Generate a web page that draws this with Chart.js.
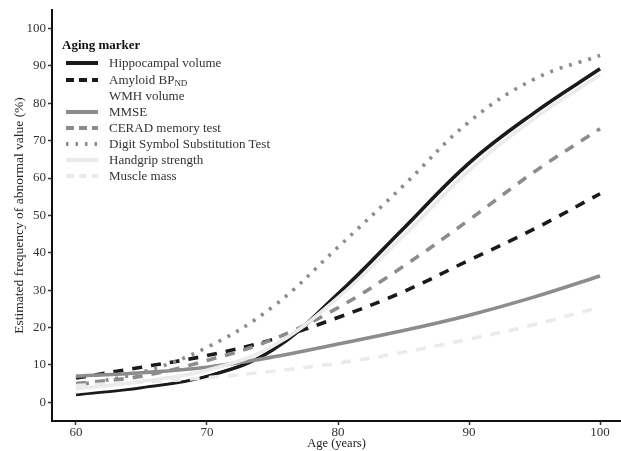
<!DOCTYPE html>
<html>
<head>
<meta charset="utf-8">
<script src="https://cdn.jsdelivr.net/npm/chart.js@4.4.1/dist/chart.umd.min.js"></script>
<style>
  body { margin: 0; background: #fff; }
  #wrap { position: relative; width: 621px; height: 451px; font-family: 'Liberation Serif', serif; }
  #legend { position: absolute; left: 0; top: 0; }
  .lg-title { position: absolute; left: 62px; top: 37px; line-height: 16px; font-size: 13px; font-weight: bold; color: #111; white-space: nowrap; }
  .lg-row { position: absolute; left: 0; height: 16px; line-height: 16px; font-size: 13px; color: #333; white-space: nowrap; }
  .lg-row svg { position: absolute; left: 66px; top: 0; }
  .lg-row span { position: absolute; left: 109px; top: 0; }
  sub { font-size: 9px; vertical-align: -2px; line-height: 0; }
</style>
</head>
<body>
<div id="wrap">
  <canvas id="chart" width="621" height="451"></canvas>
  <div id="legend"></div>
</div>
<script>
// ages (years) and estimated frequency of abnormal value (%)
const ages = [60, 65, 70, 75, 80, 85, 90, 95, 100];

const hippocampal = [2.1, 4.0, 7.0, 14.0, 29.0, 46.5, 64.0, 77.5, 89.2];
const amyloid     = [6.5, 9.4, 12.5, 16.8, 22.7, 29.6, 38.0, 46.4, 55.8];
const wmh         = [2.8, 4.8, 7.9, 15.2, 31.5, 50.0, 67.5, 81.0, 91.0];
const mmse        = [7.0, 7.9, 9.4, 12.1, 15.6, 19.2, 23.3, 28.2, 33.8];
const cerad       = [5.0, 7.0, 11.2, 16.8, 25.3, 36.4, 48.8, 61.7, 73.2];
const dsst        = [4.5, 8.0, 14.7, 25.5, 41.5, 58.0, 75.0, 86.5, 92.8];
const handgrip    = [3.6, 5.6, 8.6, 15.0, 28.0, 44.5, 62.0, 76.0, 87.6];
const muscle      = [4.5, 5.4, 6.6, 8.3, 10.5, 13.4, 16.9, 20.8, 25.5];

const yTicks = [0, 10, 20, 30, 40, 50, 60, 70, 80, 90, 100];
const xTicks = [60, 70, 80, 90, 100];

const BLACK = '#1a1a1a';
const GREY = '#8c8c8c';
const LIGHT = '#ebebeb';

const series = [
  { label: 'Hippocampal volume', html: 'Hippocampal volume', values: hippocampal, color: BLACK, dash: [], legendDash: [] },
  { label: 'Amyloid BPND', html: 'Amyloid BP<sub>ND</sub>', values: amyloid, color: BLACK, dash: [10, 9], legendDash: [8, 5] },
  { label: 'WMH volume', html: 'WMH volume', values: wmh, color: '#ffffff', dash: [], legendDash: [] },
  { label: 'MMSE', html: 'MMSE', values: mmse, color: GREY, dash: [], legendDash: [] },
  { label: 'CERAD memory test', html: 'CERAD memory test', values: cerad, color: GREY, dash: [10, 9], legendDash: [8, 5] },
  { label: 'Digit Symbol Substitution Test', html: 'Digit Symbol Substitution Test', values: dsst, color: GREY, dash: [3, 7], legendDash: [2.5, 7] },
  { label: 'Handgrip strength', html: 'Handgrip strength', values: handgrip, color: LIGHT, dash: [], legendDash: [] },
  { label: 'Muscle mass', html: 'Muscle mass', values: muscle, color: LIGHT, dash: [10, 9], legendDash: [8, 5] }
];

const datasets = series.map((s, i) => ({
  label: s.label,
  data: ages.map((a, j) => ({ x: a, y: s.values[j] })),
  borderColor: s.color,
  borderWidth: 3.6,
  borderDash: s.dash,
  borderCapStyle: 'butt',
  pointRadius: 0,
  fill: false,
  tension: 0.4,
  order: series.length - i
}));

const tickFont = { family: 'Liberation Serif', size: 13 };

new Chart(document.getElementById('chart').getContext('2d'), {
  type: 'line',
  data: { datasets: datasets },
  options: {
    responsive: false,
    animation: false,
    layout: { padding: { top: 8, right: 0, bottom: 0, left: 0 } },
    plugins: { legend: { display: false }, tooltip: { enabled: false } },
    scales: {
      x: {
        type: 'linear',
        min: 58.17,
        max: 101.6,
        afterBuildTicks: s => { s.ticks = xTicks.map(v => ({ value: v })); },
        afterFit: s => { s.height = 30; },
        grid: { display: true, drawOnChartArea: false, drawTicks: true, tickLength: 4, tickWidth: 1.5, tickColor: '#333' },
        border: { display: true, color: '#111', width: 2 },
        ticks: { color: '#333', font: tickFont, padding: 0, maxRotation: 0 },
        title: { display: true, text: 'Age (years)', color: '#222', font: { family: 'Liberation Serif', size: 12.5 }, padding: { top: 0, bottom: 0 } }
      },
      y: {
        min: -5,
        max: 105,
        afterBuildTicks: s => { s.ticks = yTicks.map(v => ({ value: v })); },
        afterFit: s => { s.width = 52; },
        grid: { display: true, drawOnChartArea: false, drawTicks: true, tickLength: 4, tickWidth: 1.5, tickColor: '#333' },
        border: { display: true, color: '#111', width: 2 },
        ticks: { color: '#333', font: tickFont, padding: 2 },
        title: { display: true, text: 'Estimated frequency of abnormal value (%)', color: '#222', font: { family: 'Liberation Serif', size: 13.5 }, padding: { top: 11, bottom: 0 } }
      }
    }
  }
});

// legend drawn as html, with line samples in svg
const legend = document.getElementById('legend');
let html = '<div class="lg-title">Aging marker</div>';
series.forEach((s, i) => {
  const top = 55.4 + i * 16.15;
  html += '<div class="lg-row" style="top:' + top + 'px">' +
    '<svg width="34" height="16"><line x1="0" y1="8" x2="32" y2="8" stroke="' + s.color + '" stroke-width="4"' +
    (s.legendDash.length ? ' stroke-dasharray="' + s.legendDash.join(',') + '"' : '') + '/></svg>' +
    '<span>' + s.html + '</span></div>';
});
legend.innerHTML = html;
</script>
</body>
</html>
